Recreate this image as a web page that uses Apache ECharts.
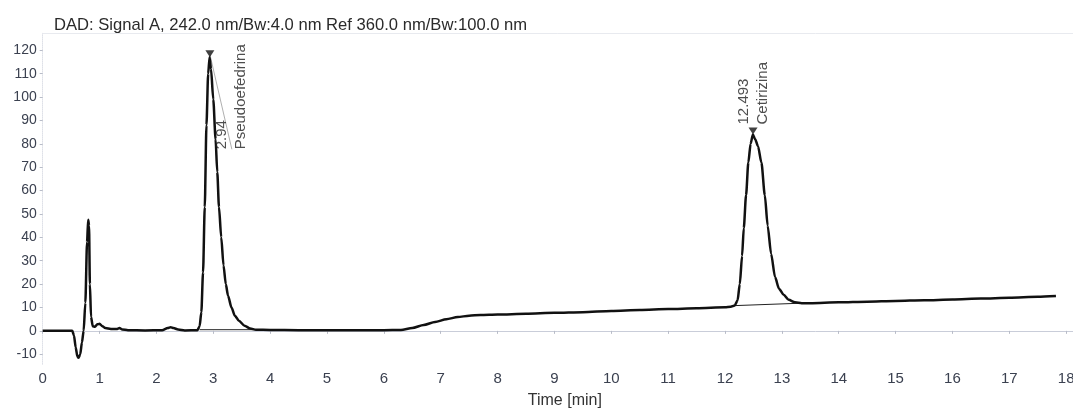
<!DOCTYPE html>
<html>
<head>
<meta charset="utf-8">
<title>DAD Signal A chromatogram</title>
<script src="https://cdn.jsdelivr.net/npm/echarts@6/dist/echarts.min.js"></script>
<style>
  html, body { margin: 0; padding: 0; background: #ffffff; }
  #chart { width: 1073px; height: 408px; }
</style>
</head>
<body>
<div id="chart"></div>
<script>
// Detector trace: retention time (min) and absorbance (mAU)
const traceTime = [
  0, 0.3, 0.52, 0.55, 0.58, 0.61, 0.63, 0.66, 0.69, 0.72, 0.75, 0.78, 0.80, 0.815, 0.83, 0.85, 0.88,
  0.92, 0.96, 1.0, 1.05, 1.1, 1.2, 1.3, 1.35, 1.4, 1.5, 1.8, 2.1, 2.2, 2.25, 2.3, 2.38, 2.5, 2.72,
  2.76, 2.79, 2.82, 2.85, 2.88, 2.91, 2.935, 2.96, 3.0, 3.04, 3.07, 3.10, 3.14, 3.18, 3.22, 3.26,
  3.32, 3.38, 3.45, 3.55, 3.65, 3.75, 4.0, 4.5, 5.0, 5.5, 6.0, 6.3, 6.5, 6.7, 6.9, 7.1, 7.3, 7.5,
  7.7, 8.0, 8.5, 9.0, 9.5, 10.0, 10.5, 11.0, 11.5, 12.0, 12.1, 12.17, 12.22, 12.26, 12.30, 12.33,
  12.37, 12.41, 12.45, 12.49, 12.53, 12.58, 12.64, 12.70, 12.75, 12.81, 12.88, 12.95, 13.03, 13.12,
  13.23, 13.35, 13.5, 14.0, 14.5, 15.0, 15.5, 16.0, 16.5, 17.0, 17.5, 17.82
];
const traceSignal = [
  0, 0, 0, -2, -7, -11, -11.5, -10, -5, 0, 12, 38, 47.5, 45, 20, 6, 2,
  1.8, 2.8, 3, 2, 1.2, 0.8, 0.8, 1.2, 0.6, 0.3, 0.2, 0.3, 1.2, 1.6, 1.2, 0.6, 0.2, 0.3,
  2, 8, 25, 53, 88, 110, 117, 112, 99, 82, 68, 53, 40, 28, 20, 15,
  10, 6.5, 4.3, 2.2, 1, 0.5, 0.4, 0.3, 0.3, 0.3, 0.3, 0.4, 1.2, 2.5, 3.8, 5, 5.9, 6.5,
  6.8, 7.0, 7.3, 7.7, 8.0, 8.5, 8.9, 9.3, 9.7, 10.1, 10.3, 10.8, 13, 20, 32, 44,
  58, 72, 80, 84, 82, 79, 72, 58, 45, 33, 23, 18, 15.5, 13.3,
  12.2, 11.8, 11.8, 12.2, 12.5, 12.8, 13.1, 13.4, 13.8, 14.2, 14.6, 14.9
];

// Identified peaks
const peakTimes = [2.94, 12.493];
const peakHeights = [117, 84];
const peakNames = ['Pseudoefedrina', 'Cetirizina'];

// Integration baselines drawn under each peak
const baselineTimes = [[2.76, 3.75], [12.17, 13.3]];
const baselineSignals = [[0.5, 0.5], [10.8, 11.8]];

// Axis tick values
const xTicks = [0, 1, 2, 3, 4, 5, 6, 7, 8, 9, 10, 11, 12, 13, 14, 15, 16, 17, 18];
const yTicks = [-10, 0, 10, 20, 30, 40, 50, 60, 70, 80, 90, 100, 110, 120];

const FONT = '"Liberation Sans", Arial, Helvetica, sans-serif';
const chart = echarts.init(document.getElementById('chart'), null, { renderer: 'canvas' });

const traceData = traceTime.map((t, i) => [t, traceSignal[i]]);
const peakData = peakTimes.map((t, i) => ({ value: [t, peakHeights[i]], name: peakNames[i] }));

// First peak: its label is moved right/down and tied back to the apex by a thin leader line
const leaderEnd = [22, 92];   // pixels from the apex to the foot of the label
const labelShift = [21, 102]; // pixels the rotated label is moved (right, down)

const baselineSeries = baselineTimes.map((ts, k) => ({
  type: 'line',
  data: ts.map((t, i) => [t, baselineSignals[k][i]]),
  showSymbol: false,
  silent: true,
  lineStyle: { color: '#222', width: 1 },
  z: 2
}));

const option = {
  animation: false,
  backgroundColor: '#ffffff',
  textStyle: { fontFamily: FONT },
  title: {
    text: 'DAD: Signal A, 242.0 nm/Bw:4.0 nm Ref 360.0 nm/Bw:100.0 nm',
    left: 49,
    top: 12,
    textStyle: { fontSize: 16.6, fontWeight: 'normal', color: '#2a2a2a', fontFamily: FONT }
  },
  grid: { left: 42.7, right: 0, top: 33, bottom: 43.7, containLabel: false, outerBoundsMode: 'none' },
  xAxis: [{
    type: 'value',
    min: 0,
    max: 18.12,
    name: 'Time [min]',
    nameLocation: 'middle',
    nameGap: 28,
    nameTextStyle: { fontSize: 16, color: '#333', fontFamily: FONT, padding: [0, 0, 0, 14] },
    axisLine: { show: true, lineStyle: { color: '#c9cdd9', width: 1 } },
    axisTick: { show: true, customValues: xTicks, length: 3, lineStyle: { color: '#b8bcc8' } },
    axisLabel: { customValues: xTicks, fontSize: 15, color: '#3b4150', margin: 7, fontFamily: FONT },
    splitLine: { show: false }
  }, {
    type: 'value',
    position: 'top',
    min: 0,
    max: 18.12,
    axisLine: { show: true, lineStyle: { color: '#e8eaef', width: 1 } },
    axisTick: { show: false },
    axisLabel: { show: false },
    splitLine: { show: false }
  }],
  yAxis: {
    type: 'value',
    min: -14.3,
    max: 127.4,
    axisLine: { show: true, lineStyle: { color: '#dfe1e8', type: 'dotted', width: 1 } },
    axisTick: { show: true, customValues: yTicks, length: 3, lineStyle: { color: '#b8bcc8' } },
    axisLabel: { customValues: yTicks, fontSize: 14, color: '#3b4150', margin: 6, fontFamily: FONT },
    splitLine: { show: false }
  },
  series: [
    {
      type: 'line',
      data: traceData,
      showSymbol: false,
      smooth: 0.25,
      smoothMonotone: 'x',
      lineStyle: { color: '#111', width: 2.5 },
      z: 3
    },
    ...baselineSeries,
    {
      // leader line from the first peak apex to its label
      type: 'custom',
      silent: true,
      z: 2,
      data: [peakData[0].value],
      renderItem: (params, api) => {
        const p = api.coord([api.value(0), api.value(1)]);
        return {
          type: 'line',
          shape: { x1: p[0], y1: p[1] - 3, x2: p[0] + leaderEnd[0], y2: p[1] + leaderEnd[1] },
          style: { stroke: '#9a9a9a', lineWidth: 0.8 }
        };
      }
    },
    {
      type: 'scatter',
      data: peakData,
      symbol: 'triangle',
      symbolRotate: 180,
      symbolSize: [9, 7],
      symbolOffset: [0, -3.5],
      itemStyle: { color: '#111' },
      z: 5,
      label: {
        show: true,
        position: 'top',
        distance: 3,
        rotate: 90,
        align: 'left',
        verticalAlign: 'middle',
        lineHeight: 19,
        fontSize: 15,
        color: '#222',
        fontFamily: FONT,
        formatter: (p) => p.value[0] + '\n' + p.name
      },
      // the label is rotated 90°, so its layout shift is given in the text's own axes
      labelLayout: (p) => (p.dataIndex === 0 ? { dx: -labelShift[1], dy: labelShift[0] } : {})
    }
  ]
};

chart.setOption(option);
</script>
</body>
</html>
